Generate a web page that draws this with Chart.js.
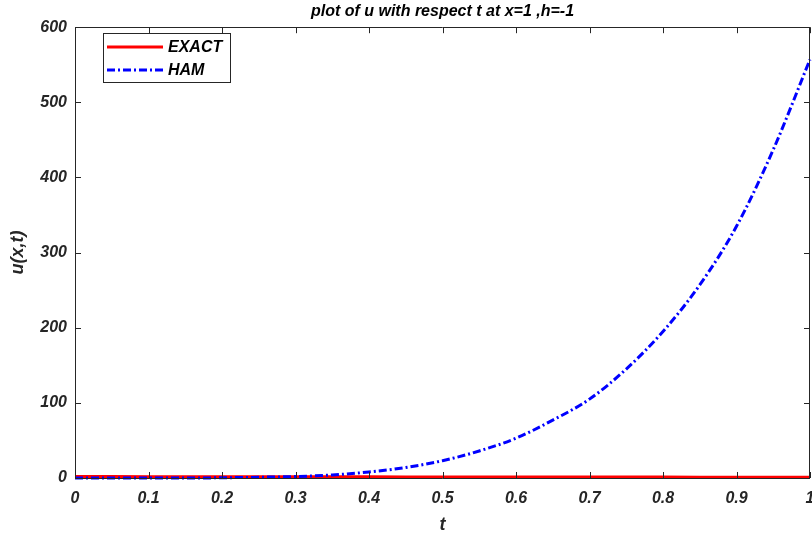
<!DOCTYPE html>
<html>
<head>
<meta charset="utf-8">
<script src="https://cdn.jsdelivr.net/npm/chart.js@4/dist/chart.umd.min.js"></script>
<style>
html,body{margin:0;padding:0;background:#fff;}
#wrap{width:812px;height:538px;position:relative;}
</style>
</head>
<body>
<div id="wrap"><canvas id="c" width="812" height="538"></canvas></div>
<script>
// ---- data ----
const tValues = [0,0.05,0.1,0.15,0.2,0.25,0.3,0.35,0.4,0.45,0.5,0.55,0.6,0.65,0.7,0.75,0.8,0.85,0.9,0.95,1];
const exactValues = [2,1.9,1.8,1.8,1.7,1.6,1.6,1.5,1.5,1.4,1.4,1.3,1.3,1.3,1.2,1.2,1.2,1.1,1.1,1.1,1];
const hamValues = [0,0,0,0,0.3,1,2,4,8,14,23,36,53,77,105,145,195,257,335,437,557];
const seriesLabels = ['EXACT','HAM'];
const xTickValues = [0,0.1,0.2,0.3,0.4,0.5,0.6,0.7,0.8,0.9,1];
const yTickValues = [0,100,200,300,400,500,600];
const titleText = 'plot of u with respect t at x=1 ,h=-1';
const xTitle = 't';
const yTitle = 'u(x,t)';

const FONT = "'Liberation Sans', Arial, sans-serif";
const AXC = '#262626';

const toPts = (ys) => tValues.map((t,i)=>({x:t,y:ys[i]}));

const boxPlugin = {
  id:'boxTicks',
  afterDatasetsDraw(chart){
    const {ctx, chartArea:a, scales:{x,y}} = chart;
    ctx.save();
    ctx.strokeStyle = AXC;
    ctx.lineWidth = 1;
    ctx.beginPath();
    ctx.rect(Math.round(a.left)+0.5, Math.round(a.top)+0.5, Math.round(a.right-a.left)-1, Math.round(a.bottom-a.top));
    ctx.stroke();
    const L = 6;
    ctx.beginPath();
    xTickValues.forEach(v=>{
      const px = Math.round(x.getPixelForValue(v))+0.5;
      ctx.moveTo(px, a.bottom); ctx.lineTo(px, a.bottom-L);
      ctx.moveTo(px, a.top); ctx.lineTo(px, a.top+L);
    });
    yTickValues.forEach(v=>{
      const py = Math.round(y.getPixelForValue(v))+0.5;
      ctx.moveTo(a.left, py); ctx.lineTo(a.left+L, py);
      ctx.moveTo(a.right, py); ctx.lineTo(a.right-L, py);
    });
    ctx.stroke();

    // legend box inside the axes
    const lx = 103, ly = 33, lw = 127, lh = 49;
    ctx.fillStyle = '#fff';
    ctx.fillRect(lx, ly, lw, lh);
    ctx.strokeStyle = AXC;
    ctx.strokeRect(lx+0.5, ly+0.5, lw, lh);
    chart.data.datasets.forEach((ds,i)=>{
      const cy = ly + 14 + i*23;
      ctx.beginPath();
      ctx.strokeStyle = ds.borderColor;
      ctx.lineWidth = ds.borderWidth;
      ctx.setLineDash(ds.borderDash || []);
      ctx.moveTo(107, cy); ctx.lineTo(163, cy);
      ctx.stroke();
      ctx.setLineDash([]);
      ctx.fillStyle = '#000';
      ctx.font = "italic bold 16px " + FONT;
      ctx.textBaseline = 'middle';
      ctx.textAlign = 'left';
      ctx.fillText(ds.label, 168, cy+1);
    });
    ctx.restore();
  }
};

new Chart(document.getElementById('c'), {
  type:'line',
  data:{
    datasets:[
      {label:seriesLabels[0], data:toPts(exactValues), borderColor:'#ff0000', borderWidth:3, pointRadius:0, fill:false, tension:0, order:1, clip:false},
      {label:seriesLabels[1], data:toPts(hamValues), borderColor:'#0000ff', borderWidth:3, borderDash:[8,3,2,3], pointRadius:0, fill:false, cubicInterpolationMode:'monotone', order:0, clip:false}
    ]
  },
  options:{
    responsive:false,
    animation:false,
    layout:{padding:{left:0,right:2,top:0,bottom:0}, autoPadding:false},
    plugins:{
      legend:{display:false},
      tooltip:{enabled:false},
      title:{display:true, fullSize:false, text:titleText, color:'#000', font:{family:FONT, size:16, style:'italic', weight:'bold', lineHeight:1.2}, padding:{top:2,bottom:6}}
    },
    scales:{
      x:{
        type:'linear', min:0, max:1,
        afterBuildTicks(s){ s.ticks = xTickValues.map(v=>({value:v})); },
        afterFit(s){ s.height = 60; s.paddingLeft = 0; s.paddingRight = 0; },
        grid:{display:false, drawTicks:false},
        border:{display:false},
        ticks:{color:AXC, padding:11, maxRotation:0, autoSkip:false,
          font:{family:FONT, size:16, style:'italic', weight:'bold'},
          callback:(v)=> (v===0||v===1)? String(v) : v.toFixed(1)},
        title:{display:true, text:xTitle, color:AXC, font:{family:FONT, size:18, style:'italic', weight:'bold', lineHeight:1.2}, padding:{top:0,bottom:2}}
      },
      y:{
        min:0, max:600,
        afterBuildTicks(s){ s.ticks = yTickValues.map(v=>({value:v})); },
        afterFit(s){ s.width = 75; s.paddingTop = 0; s.paddingBottom = 0; },
        grid:{display:false, drawTicks:false},
        border:{display:false},
        ticks:{color:AXC, padding:8, autoSkip:false,
          font:{family:FONT, size:16, style:'italic', weight:'bold'}},
        title:{display:true, text:yTitle, color:AXC, font:{family:FONT, size:18, style:'italic', weight:'bold', lineHeight:1.2}, padding:{top:7,bottom:0}}
      }
    }
  },
  plugins:[boxPlugin]
});
</script>
</body>
</html>
